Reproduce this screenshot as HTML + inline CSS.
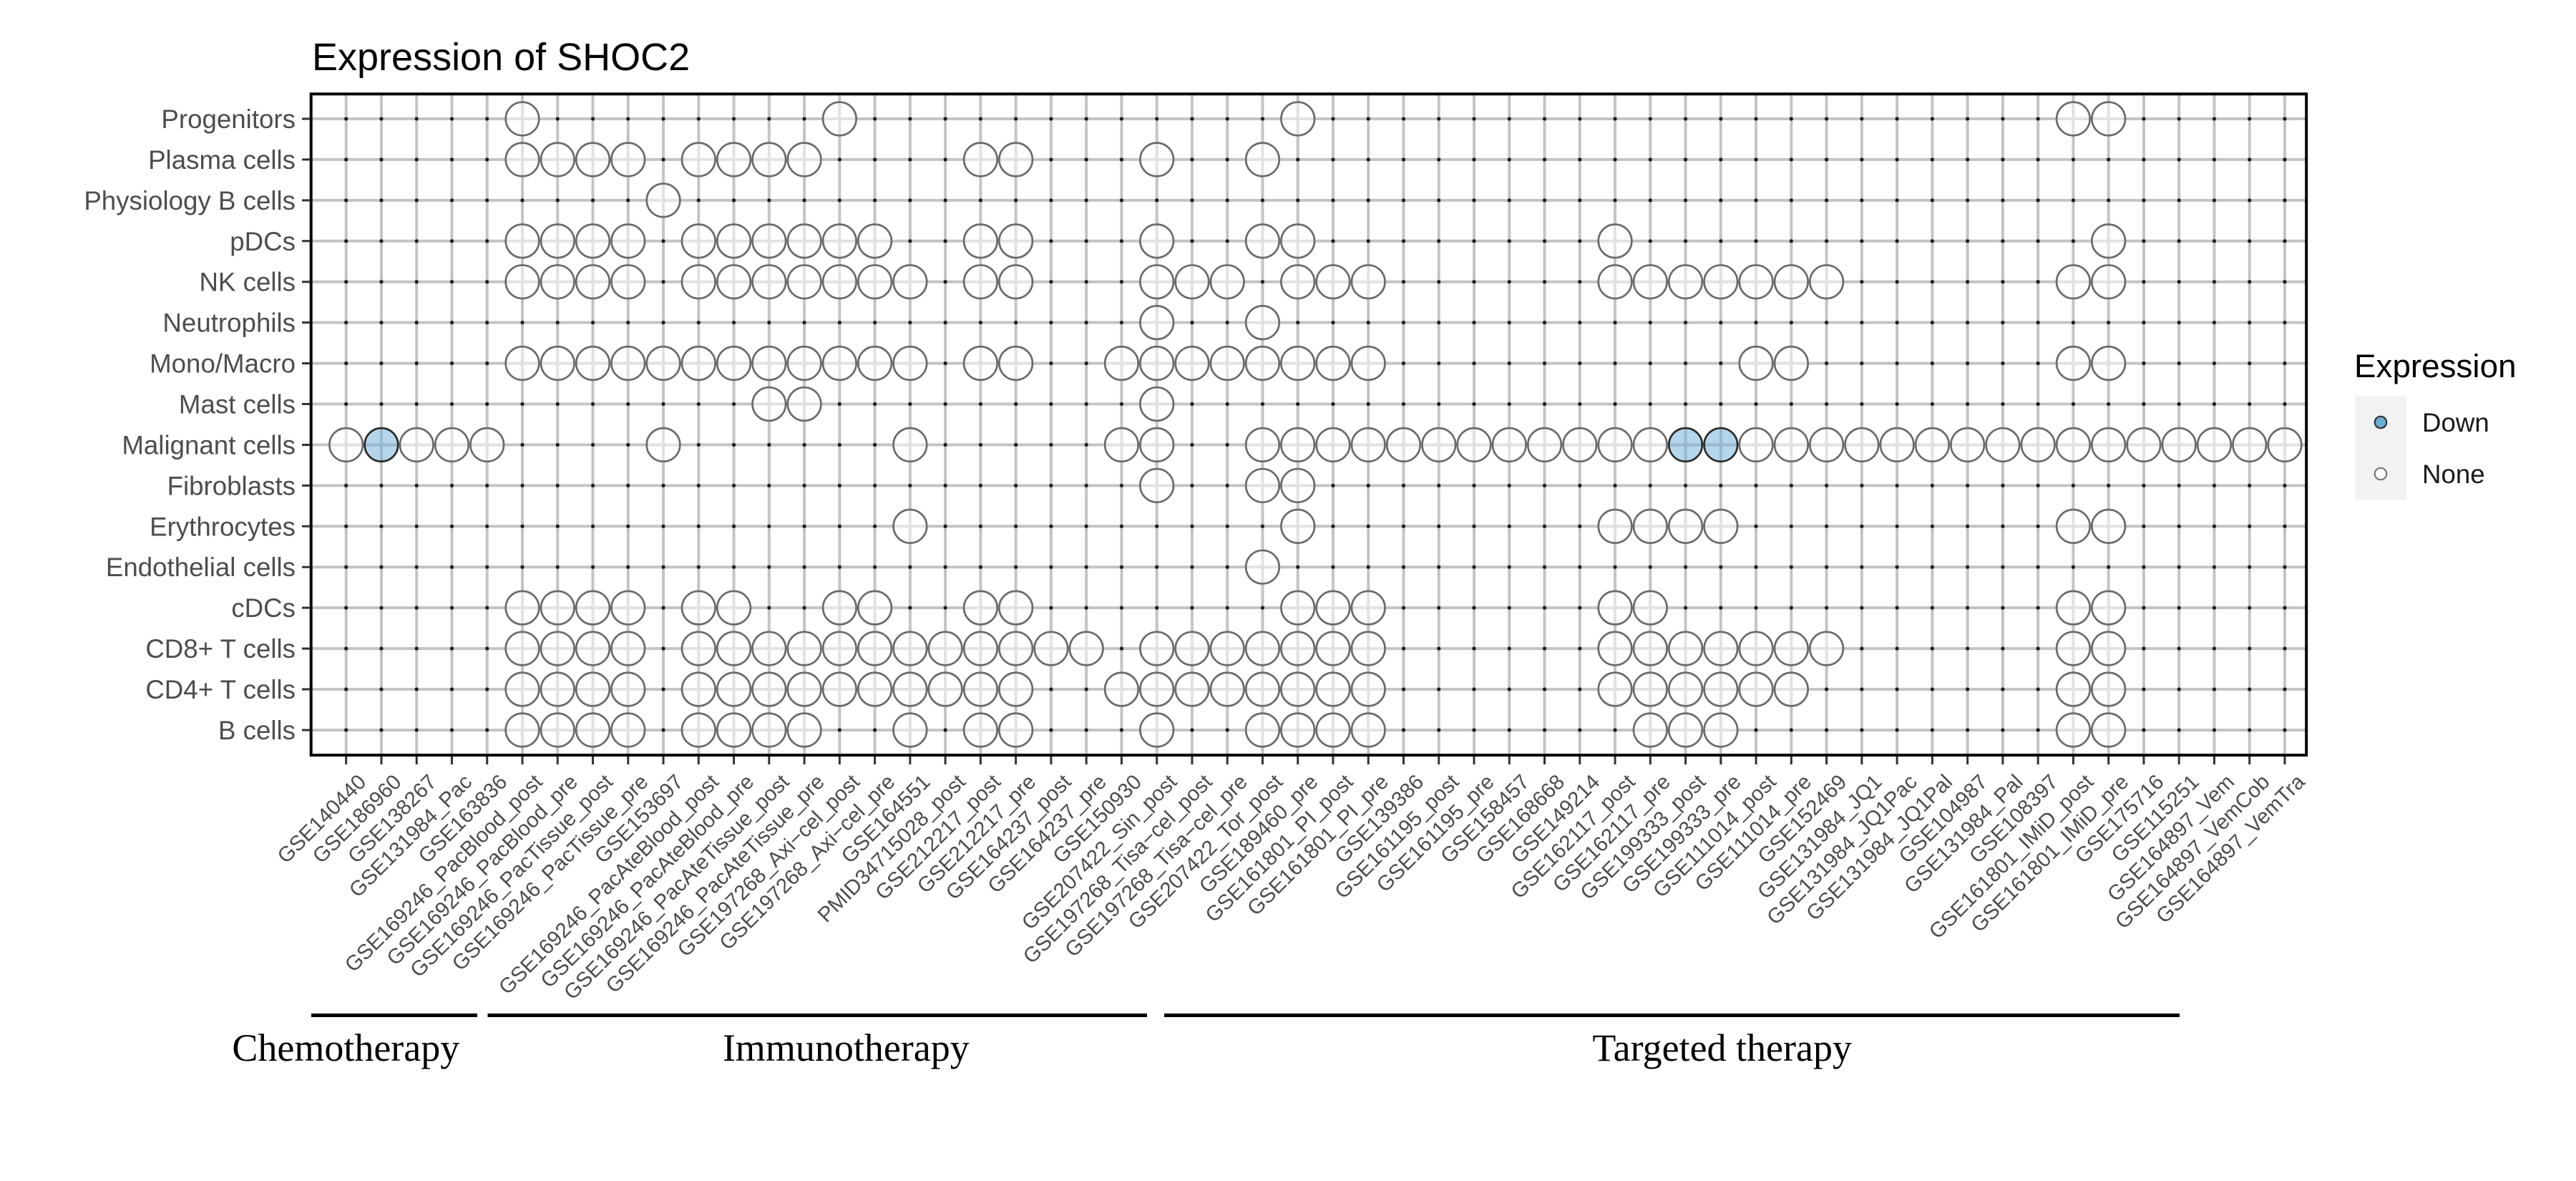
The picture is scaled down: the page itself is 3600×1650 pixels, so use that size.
<!DOCTYPE html>
<html><head><meta charset="utf-8"><style>
html,body{margin:0;padding:0;background:#fff;width:3600px;height:1650px;overflow:hidden}
svg{display:block}
</style></head><body>
<svg xmlns="http://www.w3.org/2000/svg" xmlns:xlink="http://www.w3.org/1999/xlink" width="3600" height="1650" viewBox="0 0 3600 1650">
<defs>
<g id="n"><circle r="3.4" fill="#c4c4c4"/><circle r="23.3" fill="#ffffff" fill-opacity="0.5" stroke="#6b6b6b" stroke-width="2.7"/></g>
<g id="d"><circle r="3.4" fill="#c4c4c4"/><circle r="23.3" fill="#6baed6" fill-opacity="0.5" stroke="#2b2b2b" stroke-width="2.7"/></g>
<pattern id="dots" patternUnits="userSpaceOnUse" x="459.07" y="137.535" width="49.26" height="56.93">
<circle cx="24.63" cy="28.465" r="2.6" fill="#1a1a1a"/>
</pattern>
</defs>
<rect width="3600" height="1650" fill="#fff"/>
<text x="436" y="98" font-family="Liberation Sans, Arial, sans-serif" font-size="54" fill="#000">Expression of SHOC2</text>
<path fill="none" stroke="#c4c4c4" stroke-width="4" d="M483.7 131V1055M532.96 131V1055M582.22 131V1055M631.48 131V1055M680.74 131V1055M730 131V1055M779.26 131V1055M828.52 131V1055M877.78 131V1055M927.04 131V1055M976.3 131V1055M1025.56 131V1055M1074.82 131V1055M1124.08 131V1055M1173.34 131V1055M1222.6 131V1055M1271.86 131V1055M1321.12 131V1055M1370.38 131V1055M1419.64 131V1055M1468.9 131V1055M1518.16 131V1055M1567.42 131V1055M1616.68 131V1055M1665.94 131V1055M1715.2 131V1055M1764.46 131V1055M1813.72 131V1055M1862.98 131V1055M1912.24 131V1055M1961.5 131V1055M2010.76 131V1055M2060.02 131V1055M2109.28 131V1055M2158.54 131V1055M2207.8 131V1055M2257.06 131V1055M2306.32 131V1055M2355.58 131V1055M2404.84 131V1055M2454.1 131V1055M2503.36 131V1055M2552.62 131V1055M2601.88 131V1055M2651.14 131V1055M2700.4 131V1055M2749.66 131V1055M2798.92 131V1055M2848.18 131V1055M2897.44 131V1055M2946.7 131V1055M2995.96 131V1055M3045.22 131V1055M3094.48 131V1055M3143.74 131V1055M3193 131V1055"/>
<path fill="none" stroke="#c4c4c4" stroke-width="4" d="M435 166H3223M435 222.93H3223M435 279.86H3223M435 336.79H3223M435 393.72H3223M435 450.65H3223M435 507.58H3223M435 564.51H3223M435 621.44H3223M435 678.37H3223M435 735.3H3223M435 792.23H3223M435 849.16H3223M435 906.09H3223M435 963.02H3223M435 1019.95H3223"/>
<rect x="459.07" y="137.535" width="2758.56" height="910.88" fill="url(#dots)"/>

<g transform="translate(0,166)"><use xlink:href="#n" x="730"/><use xlink:href="#n" x="1173.34"/><use xlink:href="#n" x="1813.72"/><use xlink:href="#n" x="2897.44"/><use xlink:href="#n" x="2946.7"/></g>
<g transform="translate(0,222.93)"><use xlink:href="#n" x="730"/><use xlink:href="#n" x="779.26"/><use xlink:href="#n" x="828.52"/><use xlink:href="#n" x="877.78"/><use xlink:href="#n" x="976.3"/><use xlink:href="#n" x="1025.56"/><use xlink:href="#n" x="1074.82"/><use xlink:href="#n" x="1124.08"/><use xlink:href="#n" x="1370.38"/><use xlink:href="#n" x="1419.64"/><use xlink:href="#n" x="1616.68"/><use xlink:href="#n" x="1764.46"/></g>
<g transform="translate(0,279.86)"><use xlink:href="#n" x="927.04"/></g>
<g transform="translate(0,336.79)"><use xlink:href="#n" x="730"/><use xlink:href="#n" x="779.26"/><use xlink:href="#n" x="828.52"/><use xlink:href="#n" x="877.78"/><use xlink:href="#n" x="976.3"/><use xlink:href="#n" x="1025.56"/><use xlink:href="#n" x="1074.82"/><use xlink:href="#n" x="1124.08"/><use xlink:href="#n" x="1173.34"/><use xlink:href="#n" x="1222.6"/><use xlink:href="#n" x="1370.38"/><use xlink:href="#n" x="1419.64"/><use xlink:href="#n" x="1616.68"/><use xlink:href="#n" x="1764.46"/><use xlink:href="#n" x="1813.72"/><use xlink:href="#n" x="2257.06"/><use xlink:href="#n" x="2946.7"/></g>
<g transform="translate(0,393.72)"><use xlink:href="#n" x="730"/><use xlink:href="#n" x="779.26"/><use xlink:href="#n" x="828.52"/><use xlink:href="#n" x="877.78"/><use xlink:href="#n" x="976.3"/><use xlink:href="#n" x="1025.56"/><use xlink:href="#n" x="1074.82"/><use xlink:href="#n" x="1124.08"/><use xlink:href="#n" x="1173.34"/><use xlink:href="#n" x="1222.6"/><use xlink:href="#n" x="1271.86"/><use xlink:href="#n" x="1370.38"/><use xlink:href="#n" x="1419.64"/><use xlink:href="#n" x="1616.68"/><use xlink:href="#n" x="1665.94"/><use xlink:href="#n" x="1715.2"/><use xlink:href="#n" x="1813.72"/><use xlink:href="#n" x="1862.98"/><use xlink:href="#n" x="1912.24"/><use xlink:href="#n" x="2257.06"/><use xlink:href="#n" x="2306.32"/><use xlink:href="#n" x="2355.58"/><use xlink:href="#n" x="2404.84"/><use xlink:href="#n" x="2454.1"/><use xlink:href="#n" x="2503.36"/><use xlink:href="#n" x="2552.62"/><use xlink:href="#n" x="2897.44"/><use xlink:href="#n" x="2946.7"/></g>
<g transform="translate(0,450.65)"><use xlink:href="#n" x="1616.68"/><use xlink:href="#n" x="1764.46"/></g>
<g transform="translate(0,507.58)"><use xlink:href="#n" x="730"/><use xlink:href="#n" x="779.26"/><use xlink:href="#n" x="828.52"/><use xlink:href="#n" x="877.78"/><use xlink:href="#n" x="927.04"/><use xlink:href="#n" x="976.3"/><use xlink:href="#n" x="1025.56"/><use xlink:href="#n" x="1074.82"/><use xlink:href="#n" x="1124.08"/><use xlink:href="#n" x="1173.34"/><use xlink:href="#n" x="1222.6"/><use xlink:href="#n" x="1271.86"/><use xlink:href="#n" x="1370.38"/><use xlink:href="#n" x="1419.64"/><use xlink:href="#n" x="1567.42"/><use xlink:href="#n" x="1616.68"/><use xlink:href="#n" x="1665.94"/><use xlink:href="#n" x="1715.2"/><use xlink:href="#n" x="1764.46"/><use xlink:href="#n" x="1813.72"/><use xlink:href="#n" x="1862.98"/><use xlink:href="#n" x="1912.24"/><use xlink:href="#n" x="2454.1"/><use xlink:href="#n" x="2503.36"/><use xlink:href="#n" x="2897.44"/><use xlink:href="#n" x="2946.7"/></g>
<g transform="translate(0,564.51)"><use xlink:href="#n" x="1074.82"/><use xlink:href="#n" x="1124.08"/><use xlink:href="#n" x="1616.68"/></g>
<g transform="translate(0,621.44)"><use xlink:href="#n" x="483.7"/><use xlink:href="#d" x="532.96"/><use xlink:href="#n" x="582.22"/><use xlink:href="#n" x="631.48"/><use xlink:href="#n" x="680.74"/><use xlink:href="#n" x="927.04"/><use xlink:href="#n" x="1271.86"/><use xlink:href="#n" x="1567.42"/><use xlink:href="#n" x="1616.68"/><use xlink:href="#n" x="1764.46"/><use xlink:href="#n" x="1813.72"/><use xlink:href="#n" x="1862.98"/><use xlink:href="#n" x="1912.24"/><use xlink:href="#n" x="1961.5"/><use xlink:href="#n" x="2010.76"/><use xlink:href="#n" x="2060.02"/><use xlink:href="#n" x="2109.28"/><use xlink:href="#n" x="2158.54"/><use xlink:href="#n" x="2207.8"/><use xlink:href="#n" x="2257.06"/><use xlink:href="#n" x="2306.32"/><use xlink:href="#d" x="2355.58"/><use xlink:href="#d" x="2404.84"/><use xlink:href="#n" x="2454.1"/><use xlink:href="#n" x="2503.36"/><use xlink:href="#n" x="2552.62"/><use xlink:href="#n" x="2601.88"/><use xlink:href="#n" x="2651.14"/><use xlink:href="#n" x="2700.4"/><use xlink:href="#n" x="2749.66"/><use xlink:href="#n" x="2798.92"/><use xlink:href="#n" x="2848.18"/><use xlink:href="#n" x="2897.44"/><use xlink:href="#n" x="2946.7"/><use xlink:href="#n" x="2995.96"/><use xlink:href="#n" x="3045.22"/><use xlink:href="#n" x="3094.48"/><use xlink:href="#n" x="3143.74"/><use xlink:href="#n" x="3193"/></g>
<g transform="translate(0,678.37)"><use xlink:href="#n" x="1616.68"/><use xlink:href="#n" x="1764.46"/><use xlink:href="#n" x="1813.72"/></g>
<g transform="translate(0,735.3)"><use xlink:href="#n" x="1271.86"/><use xlink:href="#n" x="1813.72"/><use xlink:href="#n" x="2257.06"/><use xlink:href="#n" x="2306.32"/><use xlink:href="#n" x="2355.58"/><use xlink:href="#n" x="2404.84"/><use xlink:href="#n" x="2897.44"/><use xlink:href="#n" x="2946.7"/></g>
<g transform="translate(0,792.23)"><use xlink:href="#n" x="1764.46"/></g>
<g transform="translate(0,849.16)"><use xlink:href="#n" x="730"/><use xlink:href="#n" x="779.26"/><use xlink:href="#n" x="828.52"/><use xlink:href="#n" x="877.78"/><use xlink:href="#n" x="976.3"/><use xlink:href="#n" x="1025.56"/><use xlink:href="#n" x="1173.34"/><use xlink:href="#n" x="1222.6"/><use xlink:href="#n" x="1370.38"/><use xlink:href="#n" x="1419.64"/><use xlink:href="#n" x="1813.72"/><use xlink:href="#n" x="1862.98"/><use xlink:href="#n" x="1912.24"/><use xlink:href="#n" x="2257.06"/><use xlink:href="#n" x="2306.32"/><use xlink:href="#n" x="2897.44"/><use xlink:href="#n" x="2946.7"/></g>
<g transform="translate(0,906.09)"><use xlink:href="#n" x="730"/><use xlink:href="#n" x="779.26"/><use xlink:href="#n" x="828.52"/><use xlink:href="#n" x="877.78"/><use xlink:href="#n" x="976.3"/><use xlink:href="#n" x="1025.56"/><use xlink:href="#n" x="1074.82"/><use xlink:href="#n" x="1124.08"/><use xlink:href="#n" x="1173.34"/><use xlink:href="#n" x="1222.6"/><use xlink:href="#n" x="1271.86"/><use xlink:href="#n" x="1321.12"/><use xlink:href="#n" x="1370.38"/><use xlink:href="#n" x="1419.64"/><use xlink:href="#n" x="1468.9"/><use xlink:href="#n" x="1518.16"/><use xlink:href="#n" x="1616.68"/><use xlink:href="#n" x="1665.94"/><use xlink:href="#n" x="1715.2"/><use xlink:href="#n" x="1764.46"/><use xlink:href="#n" x="1813.72"/><use xlink:href="#n" x="1862.98"/><use xlink:href="#n" x="1912.24"/><use xlink:href="#n" x="2257.06"/><use xlink:href="#n" x="2306.32"/><use xlink:href="#n" x="2355.58"/><use xlink:href="#n" x="2404.84"/><use xlink:href="#n" x="2454.1"/><use xlink:href="#n" x="2503.36"/><use xlink:href="#n" x="2552.62"/><use xlink:href="#n" x="2897.44"/><use xlink:href="#n" x="2946.7"/></g>
<g transform="translate(0,963.02)"><use xlink:href="#n" x="730"/><use xlink:href="#n" x="779.26"/><use xlink:href="#n" x="828.52"/><use xlink:href="#n" x="877.78"/><use xlink:href="#n" x="976.3"/><use xlink:href="#n" x="1025.56"/><use xlink:href="#n" x="1074.82"/><use xlink:href="#n" x="1124.08"/><use xlink:href="#n" x="1173.34"/><use xlink:href="#n" x="1222.6"/><use xlink:href="#n" x="1271.86"/><use xlink:href="#n" x="1321.12"/><use xlink:href="#n" x="1370.38"/><use xlink:href="#n" x="1419.64"/><use xlink:href="#n" x="1567.42"/><use xlink:href="#n" x="1616.68"/><use xlink:href="#n" x="1665.94"/><use xlink:href="#n" x="1715.2"/><use xlink:href="#n" x="1764.46"/><use xlink:href="#n" x="1813.72"/><use xlink:href="#n" x="1862.98"/><use xlink:href="#n" x="1912.24"/><use xlink:href="#n" x="2257.06"/><use xlink:href="#n" x="2306.32"/><use xlink:href="#n" x="2355.58"/><use xlink:href="#n" x="2404.84"/><use xlink:href="#n" x="2454.1"/><use xlink:href="#n" x="2503.36"/><use xlink:href="#n" x="2897.44"/><use xlink:href="#n" x="2946.7"/></g>
<g transform="translate(0,1019.95)"><use xlink:href="#n" x="730"/><use xlink:href="#n" x="779.26"/><use xlink:href="#n" x="828.52"/><use xlink:href="#n" x="877.78"/><use xlink:href="#n" x="976.3"/><use xlink:href="#n" x="1025.56"/><use xlink:href="#n" x="1074.82"/><use xlink:href="#n" x="1124.08"/><use xlink:href="#n" x="1271.86"/><use xlink:href="#n" x="1370.38"/><use xlink:href="#n" x="1419.64"/><use xlink:href="#n" x="1616.68"/><use xlink:href="#n" x="1764.46"/><use xlink:href="#n" x="1813.72"/><use xlink:href="#n" x="1862.98"/><use xlink:href="#n" x="1912.24"/><use xlink:href="#n" x="2306.32"/><use xlink:href="#n" x="2355.58"/><use xlink:href="#n" x="2404.84"/><use xlink:href="#n" x="2897.44"/><use xlink:href="#n" x="2946.7"/></g>

<rect x="434.7" y="131.3" width="2788.5" height="923.7" fill="none" stroke="#000" stroke-width="4"/>
<path fill="none" stroke="#333" stroke-width="3" d="M422 166H433M422 222.93H433M422 279.86H433M422 336.79H433M422 393.72H433M422 450.65H433M422 507.58H433M422 564.51H433M422 621.44H433M422 678.37H433M422 735.3H433M422 792.23H433M422 849.16H433M422 906.09H433M422 963.02H433M422 1019.95H433"/>
<path fill="none" stroke="#333" stroke-width="3" d="M483.7 1057V1068M532.96 1057V1068M582.22 1057V1068M631.48 1057V1068M680.74 1057V1068M730 1057V1068M779.26 1057V1068M828.52 1057V1068M877.78 1057V1068M927.04 1057V1068M976.3 1057V1068M1025.56 1057V1068M1074.82 1057V1068M1124.08 1057V1068M1173.34 1057V1068M1222.6 1057V1068M1271.86 1057V1068M1321.12 1057V1068M1370.38 1057V1068M1419.64 1057V1068M1468.9 1057V1068M1518.16 1057V1068M1567.42 1057V1068M1616.68 1057V1068M1665.94 1057V1068M1715.2 1057V1068M1764.46 1057V1068M1813.72 1057V1068M1862.98 1057V1068M1912.24 1057V1068M1961.5 1057V1068M2010.76 1057V1068M2060.02 1057V1068M2109.28 1057V1068M2158.54 1057V1068M2207.8 1057V1068M2257.06 1057V1068M2306.32 1057V1068M2355.58 1057V1068M2404.84 1057V1068M2454.1 1057V1068M2503.36 1057V1068M2552.62 1057V1068M2601.88 1057V1068M2651.14 1057V1068M2700.4 1057V1068M2749.66 1057V1068M2798.92 1057V1068M2848.18 1057V1068M2897.44 1057V1068M2946.7 1057V1068M2995.96 1057V1068M3045.22 1057V1068M3094.48 1057V1068M3143.74 1057V1068M3193 1057V1068"/>

<g font-family="Liberation Sans, Arial, sans-serif" font-size="36.7" fill="#4d4d4d" text-anchor="end">
<text x="413" y="179">Progenitors</text>
<text x="413" y="235.93">Plasma cells</text>
<text x="413" y="292.86">Physiology B cells</text>
<text x="413" y="349.79">pDCs</text>
<text x="413" y="406.72">NK cells</text>
<text x="413" y="463.65">Neutrophils</text>
<text x="413" y="520.58">Mono/Macro</text>
<text x="413" y="577.51">Mast cells</text>
<text x="413" y="634.44">Malignant cells</text>
<text x="413" y="691.37">Fibroblasts</text>
<text x="413" y="748.3">Erythrocytes</text>
<text x="413" y="805.23">Endothelial cells</text>
<text x="413" y="862.16">cDCs</text>
<text x="413" y="919.09">CD8+ T cells</text>
<text x="413" y="976.02">CD4+ T cells</text>
<text x="413" y="1032.95">B cells</text>
</g>

<g font-family="Liberation Sans, Arial, sans-serif" font-size="29.5" fill="#4d4d4d" text-anchor="end">
<text transform="translate(498.2,1079) rotate(-45)" y="21.5">GSE140440</text>
<text transform="translate(547.46,1079) rotate(-45)" y="21.5">GSE186960</text>
<text transform="translate(596.72,1079) rotate(-45)" y="21.5">GSE138267</text>
<text transform="translate(645.98,1079) rotate(-45)" y="21.5">GSE131984_Pac</text>
<text transform="translate(695.24,1079) rotate(-45)" y="21.5">GSE163836</text>
<text transform="translate(744.5,1079) rotate(-45)" y="21.5">GSE169246_PacBlood_post</text>
<text transform="translate(793.76,1079) rotate(-45)" y="21.5">GSE169246_PacBlood_pre</text>
<text transform="translate(843.02,1079) rotate(-45)" y="21.5">GSE169246_PacTissue_post</text>
<text transform="translate(892.28,1079) rotate(-45)" y="21.5">GSE169246_PacTissue_pre</text>
<text transform="translate(941.54,1079) rotate(-45)" y="21.5">GSE153697</text>
<text transform="translate(990.8,1079) rotate(-45)" y="21.5">GSE169246_PacAteBlood_post</text>
<text transform="translate(1040.06,1079) rotate(-45)" y="21.5">GSE169246_PacAteBlood_pre</text>
<text transform="translate(1089.32,1079) rotate(-45)" y="21.5">GSE169246_PacAteTissue_post</text>
<text transform="translate(1138.58,1079) rotate(-45)" y="21.5">GSE169246_PacAteTissue_pre</text>
<text transform="translate(1187.84,1079) rotate(-45)" y="21.5">GSE197268_Axi−cel_post</text>
<text transform="translate(1237.1,1079) rotate(-45)" y="21.5">GSE197268_Axi−cel_pre</text>
<text transform="translate(1286.36,1079) rotate(-45)" y="21.5">GSE164551</text>
<text transform="translate(1335.62,1079) rotate(-45)" y="21.5">PMID34715028_post</text>
<text transform="translate(1384.88,1079) rotate(-45)" y="21.5">GSE212217_post</text>
<text transform="translate(1434.14,1079) rotate(-45)" y="21.5">GSE212217_pre</text>
<text transform="translate(1483.4,1079) rotate(-45)" y="21.5">GSE164237_post</text>
<text transform="translate(1532.66,1079) rotate(-45)" y="21.5">GSE164237_pre</text>
<text transform="translate(1581.92,1079) rotate(-45)" y="21.5">GSE150930</text>
<text transform="translate(1631.18,1079) rotate(-45)" y="21.5">GSE207422_Sin_post</text>
<text transform="translate(1680.44,1079) rotate(-45)" y="21.5">GSE197268_Tisa−cel_post</text>
<text transform="translate(1729.7,1079) rotate(-45)" y="21.5">GSE197268_Tisa−cel_pre</text>
<text transform="translate(1778.96,1079) rotate(-45)" y="21.5">GSE207422_Tor_post</text>
<text transform="translate(1828.22,1079) rotate(-45)" y="21.5">GSE189460_pre</text>
<text transform="translate(1877.48,1079) rotate(-45)" y="21.5">GSE161801_PI_post</text>
<text transform="translate(1926.74,1079) rotate(-45)" y="21.5">GSE161801_PI_pre</text>
<text transform="translate(1976,1079) rotate(-45)" y="21.5">GSE139386</text>
<text transform="translate(2025.26,1079) rotate(-45)" y="21.5">GSE161195_post</text>
<text transform="translate(2074.52,1079) rotate(-45)" y="21.5">GSE161195_pre</text>
<text transform="translate(2123.78,1079) rotate(-45)" y="21.5">GSE158457</text>
<text transform="translate(2173.04,1079) rotate(-45)" y="21.5">GSE168668</text>
<text transform="translate(2222.3,1079) rotate(-45)" y="21.5">GSE149214</text>
<text transform="translate(2271.56,1079) rotate(-45)" y="21.5">GSE162117_post</text>
<text transform="translate(2320.82,1079) rotate(-45)" y="21.5">GSE162117_pre</text>
<text transform="translate(2370.08,1079) rotate(-45)" y="21.5">GSE199333_post</text>
<text transform="translate(2419.34,1079) rotate(-45)" y="21.5">GSE199333_pre</text>
<text transform="translate(2468.6,1079) rotate(-45)" y="21.5">GSE111014_post</text>
<text transform="translate(2517.86,1079) rotate(-45)" y="21.5">GSE111014_pre</text>
<text transform="translate(2567.12,1079) rotate(-45)" y="21.5">GSE152469</text>
<text transform="translate(2616.38,1079) rotate(-45)" y="21.5">GSE131984_JQ1</text>
<text transform="translate(2665.64,1079) rotate(-45)" y="21.5">GSE131984_JQ1Pac</text>
<text transform="translate(2714.9,1079) rotate(-45)" y="21.5">GSE131984_JQ1Pal</text>
<text transform="translate(2764.16,1079) rotate(-45)" y="21.5">GSE104987</text>
<text transform="translate(2813.42,1079) rotate(-45)" y="21.5">GSE131984_Pal</text>
<text transform="translate(2862.68,1079) rotate(-45)" y="21.5">GSE108397</text>
<text transform="translate(2911.94,1079) rotate(-45)" y="21.5">GSE161801_IMiD_post</text>
<text transform="translate(2961.2,1079) rotate(-45)" y="21.5">GSE161801_IMiD_pre</text>
<text transform="translate(3010.46,1079) rotate(-45)" y="21.5">GSE175716</text>
<text transform="translate(3059.72,1079) rotate(-45)" y="21.5">GSE115251</text>
<text transform="translate(3108.98,1079) rotate(-45)" y="21.5">GSE164897_Vem</text>
<text transform="translate(3158.24,1079) rotate(-45)" y="21.5">GSE164897_VemCob</text>
<text transform="translate(3207.5,1079) rotate(-45)" y="21.5">GSE164897_VemTra</text>
</g>

<rect x="435" y="1416" width="232" height="5" fill="#000"/>
<rect x="681.5" y="1416" width="921.5" height="5" fill="#000"/>
<rect x="1627" y="1416" width="1419" height="5" fill="#000"/>
<g font-family="Liberation Serif, Times New Roman, serif" font-size="54" fill="#000" text-anchor="middle">
<text x="483.3" y="1482">Chemotherapy</text>
<text x="1182.3" y="1482">Immunotherapy</text>
<text x="2406.7" y="1482">Targeted therapy</text>
</g>

<text x="3290" y="527" font-family="Liberation Sans, Arial, sans-serif" font-size="45.8" fill="#000">Expression</text>
<rect x="3291" y="554" width="72" height="144" fill="#f2f2f2"/>
<circle cx="3327" cy="590" r="8.2" fill="#6baed6" stroke="#333" stroke-width="2.2"/>
<circle cx="3327" cy="662" r="8.2" fill="#ffffff" stroke="#777" stroke-width="2.2"/>
<g font-family="Liberation Sans, Arial, sans-serif" font-size="36.7" fill="#1a1a1a">
<text x="3385" y="603">Down</text>
<text x="3385" y="675">None</text>
</g>
</svg>
</body></html>
